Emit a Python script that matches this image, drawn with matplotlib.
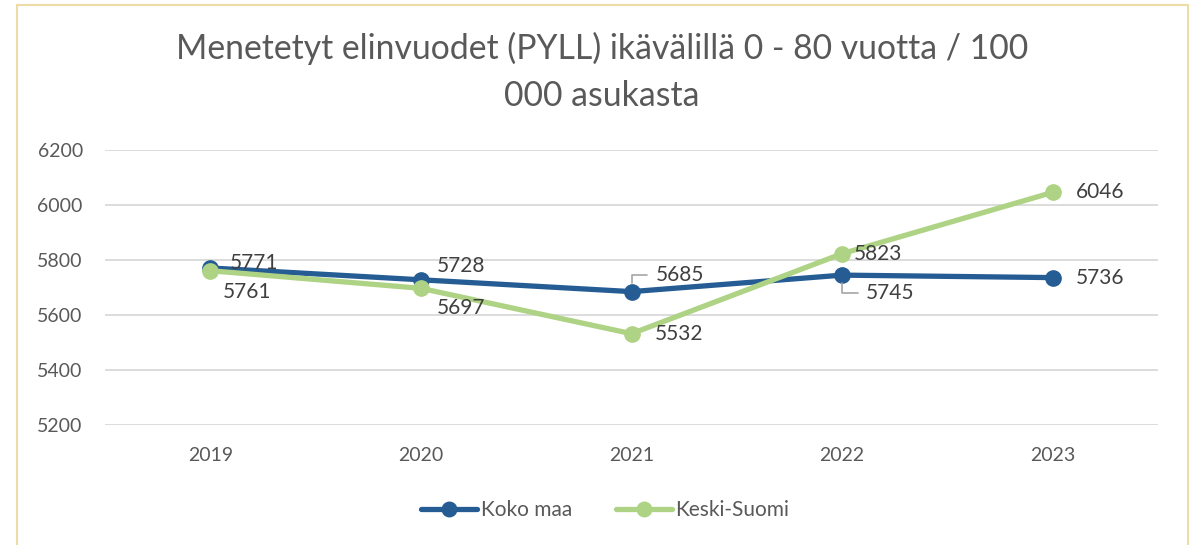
import matplotlib.pyplot as plt
from matplotlib.patches import Rectangle

# Data
years = ['2019', '2020', '2021', '2022', '2023']
koko_maa = [5771, 5728, 5685, 5745, 5736]
keski_suomi = [5761, 5697, 5532, 5823, 6046]

# label offsets in pixels (dx, dy), and whether a leader line is drawn
km_offsets = [(19, 5), (16, 14), (24, 17), (24, -18), (23, 0)]
km_leader = [False, False, True, True, False]
ks_offsets = [(12, -21), (16, -20), (23, 0), (12, 0), (23, 0)]

blue = '#255C93'
green = '#AED384'
text_col = '#404040'

plt.rcParams['font.family'] = ['Lato', 'DejaVu Sans']

fig = plt.figure(figsize=(11.94, 5.45), dpi=100)
ax = fig.add_axes([105 / 1194, 1 - 425 / 545, 1053 / 1194, 275 / 545])

x = list(range(len(years)))
ax.plot(x, koko_maa, color=blue, lw=3.8, marker='o', ms=11, label='Koko maa',
        solid_capstyle='round', zorder=3)
ax.plot(x, keski_suomi, color=green, lw=3.8, marker='o', ms=11, label='Keski-Suomi',
        solid_capstyle='round', zorder=3)

px = 72 / 100  # pixels -> points
lab_size = 15

for i, v in enumerate(koko_maa):
    dx, dy = km_offsets[i]
    if km_leader[i]:
        ax.annotate(str(v), (i, v), xytext=(dx * px, dy * px), textcoords='offset points',
                    ha='left', va='center', fontsize=lab_size, color=text_col,
                    arrowprops=dict(arrowstyle='-', color='#A6A6A6', lw=1.2,
                                    connectionstyle='angle,angleA=0,angleB=90',
                                    relpos=(0, 0.5), shrinkA=4, shrinkB=6))
    else:
        ax.annotate(str(v), (i, v), xytext=(dx * px, dy * px), textcoords='offset points',
                    ha='left', va='center', fontsize=lab_size, color=text_col)

for i, v in enumerate(keski_suomi):
    dx, dy = ks_offsets[i]
    ax.annotate(str(v), (i, v), xytext=(dx * px, dy * px), textcoords='offset points',
                ha='left', va='center', fontsize=lab_size, color=text_col)

ax.set_xlim(-0.5, 4.5)
ax.set_ylim(5200, 6200)
ax.set_yticks(range(5200, 6201, 200))
ax.set_xticks(x)
ax.set_xticklabels(years)
ax.grid(axis='y', color='#D9D9D9', lw=1.3)
ax.set_axisbelow(True)
for s in ax.spines.values():
    s.set_visible(False)
ax.tick_params(length=0, labelsize=14, labelcolor='#595959')
ax.tick_params(axis='y', pad=16)
ax.tick_params(axis='x', pad=16)

fig.text(602 / 1194, 1 - 72 / 545, 'Menetetyt elinvuodet (PYLL) ikävälillä 0 - 80 vuotta / 100\n000 asukasta',
         ha='center', va='center', fontsize=24.3, color='#595959', linespacing=1.6)

leg = fig.legend(loc='center', bbox_to_anchor=(605 / 1194, 1 - 510 / 545), ncol=2,
                 frameon=False, fontsize=15, handlelength=2.7, columnspacing=2.1,
                 handletextpad=0.15, markerscale=0.95)
for t in leg.get_texts():
    t.set_color('#595959')

# chart border
fig.patches.append(Rectangle((17 / 1194, -0.05), 1171 / 1194, 1.05 - 5 / 545,
                             transform=fig.transFigure, fill=False,
                             edgecolor='#EEDCA5', lw=1.5))

fig.savefig('out.png', dpi=100)
